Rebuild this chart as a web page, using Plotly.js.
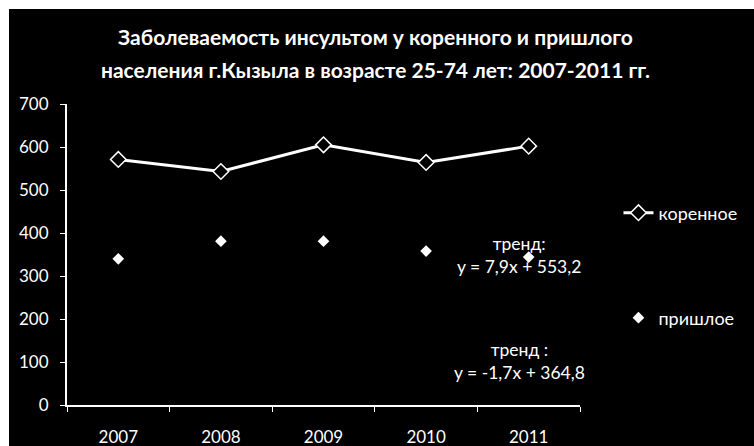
<!DOCTYPE html>
<html>
<head>
<meta charset="utf-8">
<script src="https://cdn.plot.ly/plotly-3.0.1.min.js"></script>
<style>
html,body{margin:0;padding:0;background:#ffffff;}
#chart{position:absolute;left:9px;top:9px;width:745px;height:437px;background:#000;}
</style>
</head>
<body>
<div id="chart"></div>
<script>
const years = ["2007","2008","2009","2010","2011"];
const korennoe = [571, 543, 605, 564, 602];
const prishloe = [340, 381, 381, 358, 344];
const seriesNames = ["коренное", "пришлое"];
const trendKor = ["тренд:", "y = 7,9x + 553,2"];
const trendPri = ["тренд :", "y = -1,7x + 364,8"];
const titleLines = ["Заболеваемость инсультом у коренного и пришлого", "населения г.Кызыла в возрасте 25-74 лет: 2007-2011 гг."];

const fontFam = "Lato, 'Open Sans', sans-serif";

const traces = [
  {
    x: years, y: korennoe, name: seriesNames[0], type: "scatter", mode: "lines+markers",
    line: {color: "#ffffff", width: 3},
    marker: {symbol: "diamond", size: 12, color: "#000000", line: {color: "#ffffff", width: 1.5}},
    legend: "legend"
  },
  {
    x: years, y: prishloe, name: seriesNames[1], type: "scatter", mode: "markers",
    marker: {symbol: "diamond", size: 9, color: "#ffffff", line: {color: "#ffffff", width: 0}},
    legend: "legend2"
  }
];

const legFont = {family: fontFam, size: 18, color: "#ffffff"};
const layout = {
  width: 745, height: 437,
  paper_bgcolor: "#000000", plot_bgcolor: "#000000",
  margin: {l: 58, r: 171, t: 95, b: 41},
  font: {family: fontFam, color: "#ffffff", size: 17},
  showlegend: true,
  legend: {x: 1.075, y: 0.638, xanchor: "left", yanchor: "middle", font: legFont, bgcolor: "rgba(0,0,0,0)"},
  legend2: {x: 1.075, y: 0.289, xanchor: "left", yanchor: "middle", font: legFont, bgcolor: "rgba(0,0,0,0)"},
  xaxis: {
    type: "category", range: [-0.5, 4.5],
    showline: true, linecolor: "#ffffff", linewidth: 2,
    showgrid: false, zeroline: false,
    ticks: "outside", tickson: "boundaries", ticklen: 5, tickcolor: "#ffffff", tickwidth: 1,
    ticklabelstandoff: 16,
    tickfont: {family: fontFam, size: 17, color: "#ffffff"}
  },
  yaxis: {
    range: [0, 700], dtick: 100,
    showline: true, linecolor: "#ffffff", linewidth: 2,
    showgrid: false, zeroline: false,
    ticks: "outside", ticklen: 5, tickcolor: "#ffffff", tickwidth: 1,
    ticklabelstandoff: 8,
    tickfont: {family: fontFam, size: 17, color: "#ffffff"}
  },
  annotations: [
    {text: "<b>" + titleLines[0] + "</b>", xref: "paper", yref: "paper", x: 0.601, y: 1.2226,
     xanchor: "center", yanchor: "middle", showarrow: false,
     font: {family: fontFam, size: 21, color: "#ffffff"}},
    {text: "<b>" + titleLines[1] + "</b>", xref: "paper", yref: "paper", x: 0.601, y: 1.113,
     xanchor: "center", yanchor: "middle", showarrow: false,
     font: {family: fontFam, size: 21, color: "#ffffff"}},
    {text: trendKor[0] + "<br>" + trendKor[1], xref: "paper", yref: "paper", x: 0.882, y: 0.498,
     xanchor: "center", yanchor: "middle", showarrow: false, align: "center",
     font: {family: fontFam, size: 17.5, color: "#ffffff"}},
    {text: trendPri[0] + "<br>" + trendPri[1], xref: "paper", yref: "paper", x: 0.882, y: 0.146,
     xanchor: "center", yanchor: "middle", showarrow: false, align: "center",
     font: {family: fontFam, size: 17.5, color: "#ffffff"}}
  ]
};

Plotly.newPlot("chart", traces, layout, {displayModeBar: false, staticPlot: true});
</script>
</body>
</html>
